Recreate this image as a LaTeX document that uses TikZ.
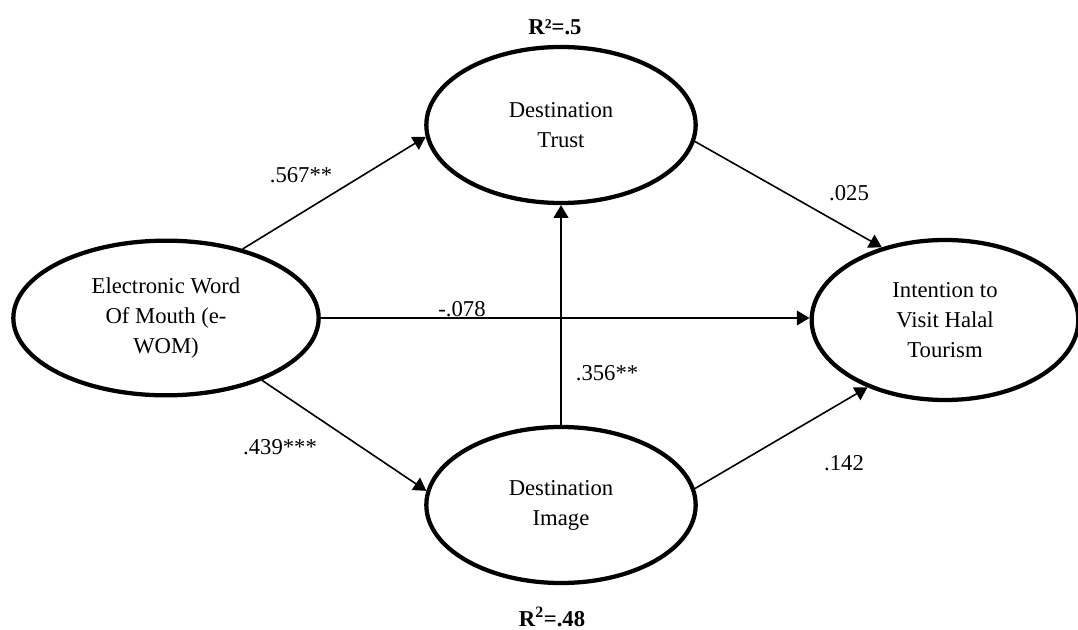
\documentclass[tikz,border=0pt]{standalone}
\usepackage{fontspec}
\setmainfont{Liberation Serif}
\usetikzlibrary{arrows.meta,shapes.geometric}

\begin{document}
\begin{tikzpicture}[
      x=0.75pt,y=-0.75pt,
      construct/.style={ellipse,draw,line width=3.2pt,inner sep=0pt,
                  minimum width=202pt,minimum height=117pt,
                  font=\fontsize{17}{22.5}\selectfont,align=center},
      coef/.style={font=\fontsize{17}{20}\selectfont,inner sep=0pt},
      rsq/.style={font=\fontsize{17}{20}\selectfont\bfseries,inner sep=0pt},
      arr/.style={-{Triangle[length=9.5pt,width=11pt]},line width=1.2pt}
    ]
      \useasboundingbox (0,0) rectangle (1078,630);
      % constructs
      \node[construct,minimum width=229pt,minimum height=116pt] (ewom) at (166,318) {Electronic Word\\Of Mouth (e-\\WOM)};
      \node[construct] (trust) at (561,125) {Destination\\Trust};
      \node[construct] (image) at (561,505) {Destination\\Image};
      \node[construct,minimum width=200pt,minimum height=120pt] (intent) at (945,320) {Intention to\\Visit Halal\\Tourism};
      % paths
      \draw[arr] (ewom.42)  -- (trust.185);
      \draw[arr] (ewom.east) -- (ewom.east -| intent.west);
      \draw[arr] (ewom.-33) -- (image.174);
      \draw[arr] (image.north) -- (trust.south);
      \draw[arr] (trust.-7) -- (intent.131);
      \draw[arr] (image.7)  -- (intent.221);
      % coefficients
      \node[coef] (c1) at (301,175) {.567**};
      \node[coef] (c2) at (280,447) {.439***};
      \node[coef] (c3) at (462,309) {-.078};
      \node[coef] (c4) at (607,373) {.356**};
      \node[coef] (c5) at (849,193) {.025};
      \node[coef] (c6) at (844,463) {.142};
      \node[rsq] (r1) at (555,27) {R²=.5};
      \node[rsq] (r2) at (552,617) {R\textsuperscript{2}=.48};
    \end{tikzpicture}
\end{document}
